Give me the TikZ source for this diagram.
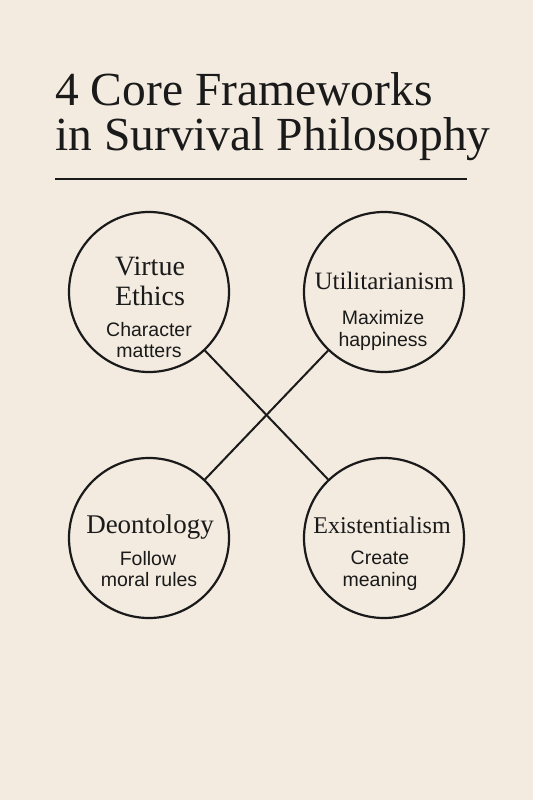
\documentclass[tikz,border=0pt]{standalone}
\usepackage{fontspec}
\setmainfont{Liberation Serif}
\newfontfamily\subfont{Liberation Sans}
\definecolor{bg}{HTML}{F3EBE0}
\definecolor{ink}{HTML}{1A1A1A}
\begin{document}
\begin{tikzpicture}[x=1pt,y=-1pt,
  framecircle/.style={circle,draw=ink,line width=2.2pt,minimum size=160pt,inner sep=0pt},
  headtext/.style={anchor=base,font=\fontsize{#1}{#1}\selectfont,text=ink,inner sep=0pt},
  headtext/.default=25,
  subtext/.style={anchor=base,font=\subfont\fontsize{19.5}{19.5}\selectfont,text=ink,inner sep=0pt},
  titletext/.style={anchor=base west,font=\fontsize{47.5}{47.5}\selectfont,text=ink,inner sep=0pt},
  link/.style={draw=ink,line width=2pt}]
\fill[bg] (0,0) rectangle (533,800);
\useasboundingbox (0,0) rectangle (533,800);
\node[titletext] (t1) at (55,105) {4 Core Frameworks};
\node[titletext] (t2) at (55,150) {in Survival Philosophy};
\coordinate (r1) at (55,179);
\coordinate (r2) at (467,179);
\draw[ink,line width=2.5pt] (r1) -- (r2);
\node[framecircle] (ve) at (149,292) {};
\node[framecircle] (ut) at (384,292) {};
\node[framecircle] (de) at (149,538) {};
\node[framecircle] (ex) at (384,538) {};
\draw[link] (ve) -- (ex);
\draw[link] (ut) -- (de);
\node[headtext=28] (ve1) at (150,275) {Virtue};
\node[headtext=28] (ve2) at (150,305) {Ethics};
\node[subtext] (ve3) at (149,336) {Character};
\node[subtext] (ve4) at (149,357) {matters};
\node[headtext=25] (ut1) at (384,289) {Utilitarianism};
\node[subtext] (ut2) at (383,324) {Maximize};
\node[subtext] (ut3) at (383,346) {happiness};
\node[headtext=27] (de1) at (150,533) {Deontology};
\node[subtext] (de2) at (148,565) {Follow};
\node[subtext] (de3) at (149,586) {moral rules};
\node[headtext=24] (ex1) at (382,533) {Existentialism};
\node[subtext] (ex2) at (380,564) {Create};
\node[subtext] (ex3) at (380,586) {meaning};
\end{tikzpicture}
\end{document}
